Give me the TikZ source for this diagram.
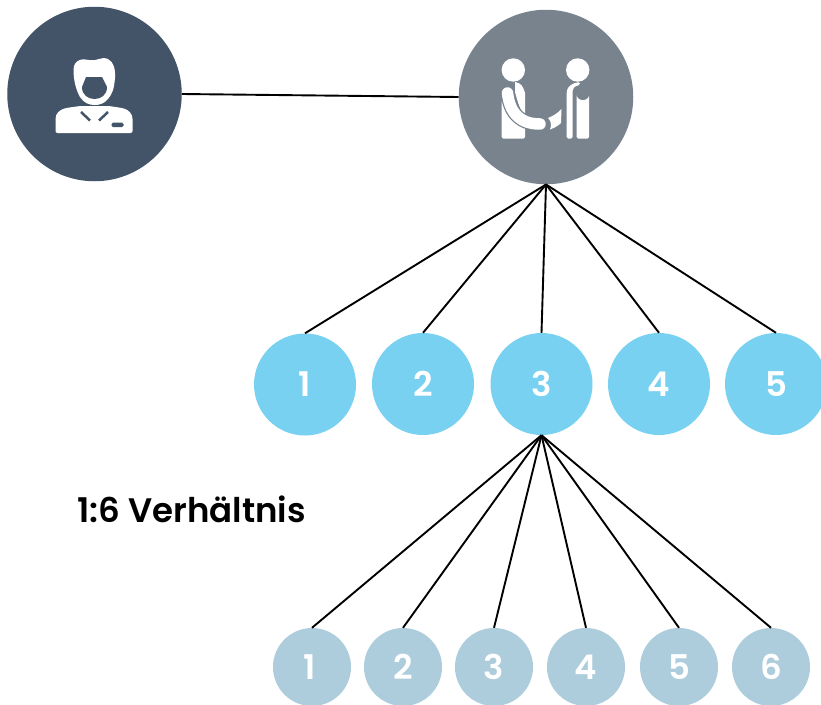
\documentclass[tikz,border=0pt]{standalone}
\usepackage{fontspec}
\setmainfont{Poppins}[BoldFont={Poppins SemiBold}]
\definecolor{bossc}{HTML}{435469}
\definecolor{mgrc}{HTML}{78838E}
\definecolor{bluec}{HTML}{78D1F1}
\definecolor{paleb}{HTML}{ADCCDC}
\tikzset{
  disc/.style={circle,inner sep=0pt,text=white,font=\fontsize{34}{34}\selectfont\bfseries},
  bossdisc/.style={disc,fill=bossc,minimum size=174.5pt},
  mgrdisc/.style={disc,fill=mgrc,minimum size=174.5pt},
  teamdisc/.style={disc,fill=bluec,minimum size=102pt},
  subdisc/.style={disc,fill=paleb,minimum size=78pt},
  link/.style={draw=black,line width=1.9pt},
  caption/.style={inner sep=0pt,font=\fontsize{34}{34}\selectfont\bfseries}
}
\begin{document}
\begin{tikzpicture}[x=1pt,y=-1pt]
\clip (0,0) rectangle (821,704);
\fill[white] (0,0) rectangle (821,704);
\node[bossdisc] (boss) at (94.5,94) {};
\node[mgrdisc] (mgr) at (546,97) {};
\node[teamdisc] (a1) at (305,384.5) {1};
\node[teamdisc] (a2) at (423,384) {2};
\node[teamdisc] (a3) at (541.5,384) {3};
\node[teamdisc] (a4) at (659,384) {4};
\node[teamdisc] (a5) at (776,384) {5};
\node[subdisc] (b1) at (312,667) {\hspace{-5pt}1};
\node[subdisc] (b2) at (403,667) {2\hspace{-3pt}};
\node[subdisc] (b3) at (494,667) {3};
\node[subdisc] (b4) at (586,667) {4};
\node[subdisc] (b5) at (679,667) {5};
\node[subdisc] (b6) at (771,667) {6\hspace{-3pt}};
\node[caption] (cap) at (191.5,509) {1:6 Verhältnis};
\draw[link] (boss.east) -- (mgr.west);
\foreach \t in {a1,a2,a3,a4,a5}{\draw[link] (mgr.south) -- (\t.north);}
\foreach \t in {b1,b2,b3,b4,b5,b6}{\draw[link] (a3.south) -- (\t.north);}
% boss icon
\fill[white,rounded corners=2pt] (55.5,133) -- (55.5,121) .. controls (55.5,113) and (60,110) .. (66,108) -- (80,106) -- (109,106) -- (122,108) .. controls (129,110) and (132.5,114) .. (132.5,121) -- (132.5,133) -- cycle;
\fill[white] (73.5,70) .. controls (73.5,60) and (82,58) .. (89,60) .. controls (96,62) and (101,56) .. (108,59) .. controls (114,62) and (115.5,70) .. (115,78) .. controls (114,90) and (112,94) .. (108,99) .. controls (104,104) and (99,105) .. (94.5,105) .. controls (89,105) and (84,103) .. (80,97) .. controls (76,90) and (73.5,80) .. (73.5,70) -- cycle;
\fill[bossc] (86,77) -- (102,77) -- (107,87) .. controls (107,95) and (101,99) .. (94.5,99) .. controls (88,99) and (82,95) .. (82,87) -- cycle;
\draw[bossc,line width=2.5pt] (81,112) -- (90,120.5);
\draw[bossc,line width=2.5pt] (108,112) -- (99,120.5);
\fill[bossc,rounded corners=1.5pt] (111.5,122.5) rectangle (123.5,127);
% manager icon
\fill[white] (513.3,70) circle (11.7);
\fill[white] (577.7,70) circle (11.7);
\fill[white,rounded corners=1.5pt] (501.7,100) -- (501.7,138.5) -- (525,138.5) -- (525,118) -- cycle;
\fill[white] (515,82) .. controls (521,83) and (523,86) .. (525,93) -- (525,116) .. controls (520,110) and (518,103) .. (515,92) -- cycle;
\draw[mgrc,line width=14pt,line cap=round] (507.5,93) .. controls (510,115) and (522,124) .. (540,124);
\draw[white,line width=11.5pt,line cap=round] (507.5,93) .. controls (510,115) and (522,124) .. (540,124);
\fill[white] (548,118) .. controls (553,116) and (558,113) .. (561.5,109) -- (561,123) .. controls (558,126) and (554,128) .. (550,129.5) .. controls (552,125) and (551,121) .. (548,118) -- cycle;
\fill[white,rounded corners=1.5pt] (566.7,138.5) -- (566.7,93) .. controls (567,87) and (572,83) .. (580,82) -- (580,85) .. controls (574,86) and (572.5,89) .. (572.5,94) -- (572.5,138.5) -- cycle;
\fill[white,rounded corners=1.5pt] (576.7,138.5) -- (576.7,94) arc[start angle=180,end angle=0,radius=6.2] -- (589,138.5) -- cycle;
\end{tikzpicture}
\end{document}
